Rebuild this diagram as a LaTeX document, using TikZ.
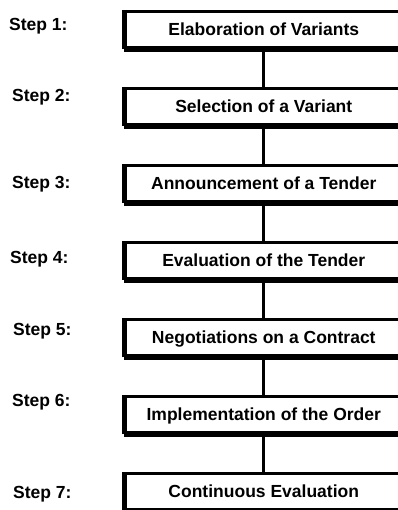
\documentclass[tikz,border=0pt]{standalone}
\usepackage{fontspec}
\setmainfont{Liberation Sans}
\begin{document}
\begin{tikzpicture}[x=1pt,y=1pt,
  stepbox/.style={draw=black, line width=2.8pt, fill=white, rectangle,
    minimum width=276.5pt, minimum height=36.5pt, inner sep=0pt,
    text height=12.5pt, text depth=0pt,
    font=\fontsize{17.5}{20}\selectfont\bfseries},
  steplabel/.style={anchor=base west, inner sep=0pt,
    font=\fontsize{17.5}{20}\selectfont\bfseries},
  link/.style={draw=black, line width=2.6pt},
  shadowline/.style={draw=black, line width=4pt}]
\useasboundingbox (0,0) rectangle (397,510);
% boxes: centre x 263.75, centre y (from top) t+19.5, t=10+77i
\node[stepbox] (b1) at (263.75,{510-29.5}) {Elaboration of Variants};
\node[stepbox] (b2) at (263.75,{510-106.5}) {Selection of a Variant};
\node[stepbox] (b3) at (263.75,{510-183.5}) {Announcement of a Tender};
\node[stepbox] (b4) at (263.75,{510-260.5}) {Evaluation of the Tender};
\node[stepbox] (b5) at (263.75,{510-337.5}) {Negotiations on a Contract};
\node[stepbox] (b6) at (263.75,{510-414.5}) {Implementation of the Order};
\node[stepbox] (b7) at (263.75,{510-491.5}) {Continuous Evaluation};
\foreach \b in {b1,b2,b3,b4,b5,b6,b7}{
  \draw[shadowline] ([yshift=-0.6pt]\b.south west) -- ([yshift=-0.6pt]\b.south east);
  \draw[line width=3.4pt] ([xshift=-0.3pt]\b.south west) -- ([xshift=-0.3pt]\b.north west);
}
\draw[link] (b1.south) -- (b2.north);
\draw[link] (b2.south) -- (b3.north);
\draw[link] (b3.south) -- (b4.north);
\draw[link] (b4.south) -- (b5.north);
\draw[link] (b5.south) -- (b6.north);
\draw[link] (b6.south) -- (b7.north);
% labels
\node[steplabel] (s1) at (9,{510-31}) {Step 1:};
\node[steplabel] (s2) at (12,{510-102}) {Step 2:};
\node[steplabel] (s3) at (12,{510-189}) {Step 3:};
\node[steplabel] (s4) at (10,{510-264}) {Step 4:};
\node[steplabel] (s5) at (13,{510-336}) {Step 5:};
\node[steplabel] (s6) at (12,{510-407}) {Step 6:};
\node[steplabel] (s7) at (13,{510-499}) {Step 7:};
\end{tikzpicture}
\end{document}
